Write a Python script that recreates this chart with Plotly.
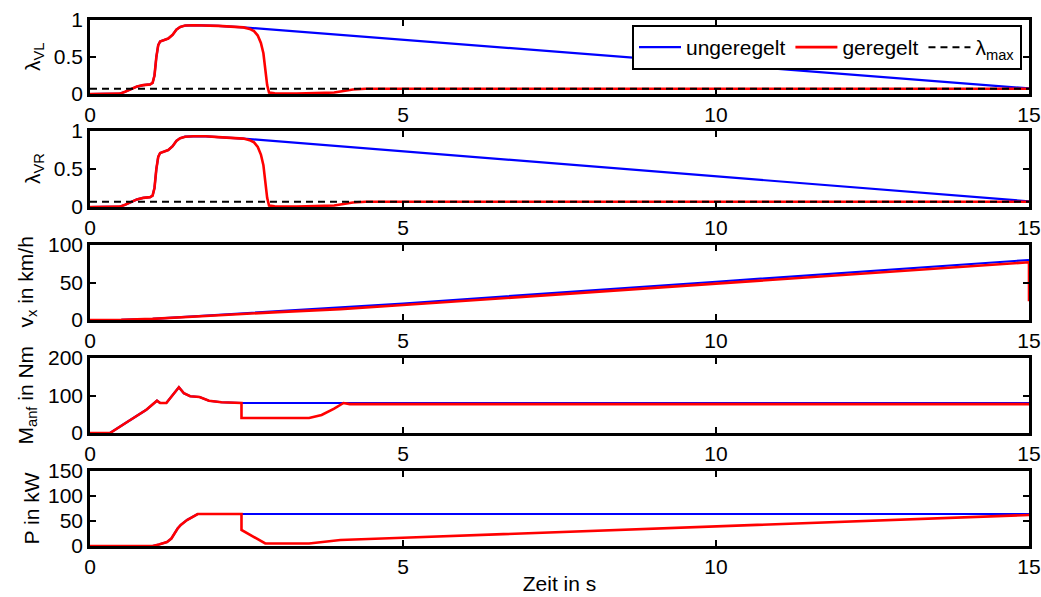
import plotly.graph_objects as go

# ---------------- data ----------------
# lambda_VL (front left wheel slip)
lvl_red_t = [0, 0.3, 0.48, 0.56, 0.64, 0.75, 0.85, 0.96, 1.0, 1.03, 1.06, 1.09, 1.12, 1.18, 1.25, 1.32, 1.38, 1.44, 1.52, 1.65, 1.85, 2.05, 2.25, 2.45, 2.55, 2.62, 2.68, 2.73, 2.77, 2.8, 2.83, 2.86, 2.95, 3.3, 3.7, 3.9, 4.05, 4.2, 4.4, 15]
lvl_red_v = [0, 0.0, 0.005, 0.03, 0.06, 0.1, 0.12, 0.13, 0.15, 0.25, 0.5, 0.66, 0.71, 0.73, 0.75, 0.8, 0.87, 0.905, 0.925, 0.93, 0.93, 0.92, 0.91, 0.9, 0.88, 0.85, 0.79, 0.69, 0.55, 0.35, 0.12, 0.02, 0.01, 0.005, 0.01, 0.02, 0.04, 0.06, 0.07, 0.07]
lvl_blue_t = [0, 0.3, 0.48, 0.56, 0.64, 0.75, 0.85, 0.96, 1.0, 1.03, 1.06, 1.09, 1.12, 1.18, 1.25, 1.32, 1.38, 1.44, 1.52, 1.65, 1.85, 2.05, 2.25, 2.45, 15]
lvl_blue_v = [0, 0.0, 0.005, 0.03, 0.06, 0.1, 0.12, 0.13, 0.15, 0.25, 0.5, 0.66, 0.71, 0.73, 0.75, 0.8, 0.87, 0.905, 0.925, 0.93, 0.93, 0.92, 0.91, 0.9, 0.075]

# lambda_VR (front right wheel slip)
lvr_red_t = [0, 0.3, 0.48, 0.56, 0.64, 0.75, 0.85, 0.96, 1.0, 1.03, 1.06, 1.09, 1.12, 1.18, 1.25, 1.32, 1.38, 1.44, 1.52, 1.65, 1.85, 2.05, 2.25, 2.45, 2.55, 2.62, 2.68, 2.73, 2.77, 2.8, 2.83, 2.86, 2.95, 3.3, 3.7, 3.9, 4.05, 4.2, 4.4, 15]
lvr_red_v = [0, 0.0, 0.005, 0.03, 0.06, 0.1, 0.12, 0.13, 0.15, 0.25, 0.5, 0.66, 0.71, 0.73, 0.75, 0.8, 0.87, 0.905, 0.925, 0.93, 0.93, 0.92, 0.91, 0.9, 0.88, 0.85, 0.79, 0.69, 0.55, 0.35, 0.12, 0.02, 0.01, 0.005, 0.01, 0.02, 0.04, 0.06, 0.07, 0.07]
lvr_blue_t = [0, 0.3, 0.48, 0.56, 0.64, 0.75, 0.85, 0.96, 1.0, 1.03, 1.06, 1.09, 1.12, 1.18, 1.25, 1.32, 1.38, 1.44, 1.52, 1.65, 1.85, 2.05, 2.25, 2.45, 15]
lvr_blue_v = [0, 0.0, 0.005, 0.03, 0.06, 0.1, 0.12, 0.13, 0.15, 0.25, 0.5, 0.66, 0.71, 0.73, 0.75, 0.8, 0.87, 0.905, 0.925, 0.93, 0.93, 0.92, 0.91, 0.9, 0.075]

lambda_max = 0.07

# vehicle speed v_x in km/h
vx_blue_t = [0, 0.5, 1.0, 1.5, 2.0, 2.5, 3.0, 4.0, 5.0, 10.0, 15.0]
vx_blue_v = [0, 0.2, 1.5, 4.0, 6.5, 9.0, 11.5, 16.5, 22.0, 51.0, 80.0]
vx_red_t = [0, 0.5, 1.0, 1.5, 2.0, 2.5, 3.0, 4.0, 5.0, 10.0, 15.0, 15.0]
vx_red_v = [0, 0.2, 1.5, 4.0, 6.3, 8.5, 10.5, 14.5, 20.0, 48.5, 77.0, 25.0]

# requested torque M_anf in Nm
m_red_t = [0, 0.32, 0.6, 0.9, 1.07, 1.12, 1.22, 1.42, 1.5, 1.6, 1.75, 1.8, 1.9, 2.1, 2.42, 2.42, 3.5, 3.7, 3.9, 4.05, 4.15, 15]
m_red_v = [0, 0, 30, 62, 86, 80, 80, 122, 106, 98, 96, 92, 86, 82, 80, 40, 40, 48, 65, 80, 77, 77]
m_blue_t = [0, 0.32, 0.6, 0.9, 1.07, 1.12, 1.22, 1.42, 1.5, 1.6, 1.75, 1.8, 1.9, 2.1, 2.42, 15]
m_blue_v = [0, 0, 30, 62, 86, 80, 80, 122, 106, 98, 96, 92, 86, 82, 80, 80]

# power P in kW
p_red_t = [0, 1.0, 1.1, 1.23, 1.3, 1.4, 1.45, 1.55, 1.72, 2.42, 2.42, 2.8, 3.5, 3.7, 4.0, 5.0, 15]
p_red_v = [0, 0, 3, 8, 15, 35, 42, 52, 64, 64, 32, 5, 5, 8, 12, 16.5, 62]
p_blue_t = [0, 1.0, 1.1, 1.23, 1.3, 1.4, 1.45, 1.55, 1.72, 2.42, 15]
p_blue_v = [0, 0, 3, 8, 15, 35, 42, 52, 64, 64, 64]

x_ticks = [0, 5, 10, 15]
y_ticks = [[0, 0.5, 1], [0, 0.5, 1], [0, 50, 100], [0, 100, 200], [0, 50, 100, 150]]
y_ranges = [[0, 1], [0, 1], [0, 100], [0, 200], [0, 150]]
y_titles = ["λ<sub>VL</sub>", "λ<sub>VR</sub>", "v<sub>x</sub> in km/h", "M<sub>anf</sub> in Nm", "P in kW"]
legend_names = ["ungeregelt", "geregelt", "λ<sub>max</sub>"]

# ---------------- figure ----------------
W, H = 1041, 597
ML, MR, MT, MB = 90, 12, 20, 51
PW, PH = W - ML - MR, H - MT - MB
# pixel extents (top, bottom) of each panel
panels_px = [(20, 94), (131, 207), (245, 320), (358, 433), (471, 546)]

BLUE = "#0000ff"
RED = "#ff0000"
FONT = "Arial, Liberation Sans, sans-serif"
FS = 21

fig = go.Figure()

series = [
    (lvl_blue_t, lvl_blue_v, lvl_red_t, lvl_red_v),
    (lvr_blue_t, lvr_blue_v, lvr_red_t, lvr_red_v),
    (vx_blue_t, vx_blue_v, vx_red_t, vx_red_v),
    (m_blue_t, m_blue_v, m_red_t, m_red_v),
    (p_blue_t, p_blue_v, p_red_t, p_red_v),
]

for i, (bt, bv, rt, rv) in enumerate(series):
    ax = "" if i == 0 else str(i + 1)
    fig.add_trace(go.Scatter(x=bt, y=bv, mode="lines", line=dict(color=BLUE, width=2.2),
                             name=legend_names[0], showlegend=(i == 0),
                             xaxis="x" + ax, yaxis="y" + ax))
    fig.add_trace(go.Scatter(x=rt, y=rv, mode="lines", line=dict(color=RED, width=2.6),
                             name=legend_names[1], showlegend=(i == 0),
                             xaxis="x" + ax, yaxis="y" + ax))
    if i < 2:
        fig.add_trace(go.Scatter(x=[0, 15], y=[lambda_max, lambda_max], mode="lines",
                                 line=dict(color="black", width=2, dash="7px,5px"),
                                 name=legend_names[2], showlegend=(i == 0),
                                 xaxis="x" + ax, yaxis="y" + ax))

def px_to_paper_y(py):
    return (H - MB - py) / PH

def px_to_paper_x(px):
    return (px - ML) / PW

layout = dict(
    template="none",
    width=W, height=H,
    margin=dict(l=ML, r=MR, t=MT, b=MB, pad=0, autoexpand=False),
    paper_bgcolor="white", plot_bgcolor="white",
    font=dict(family=FONT, size=FS, color="black"),
    legend=dict(orientation="h", x=px_to_paper_x(1022), xanchor="right",
                y=px_to_paper_y(25), yanchor="top",
                bgcolor="white", bordercolor="black", borderwidth=2,
                font=dict(size=FS), itemwidth=42, tracegroupgap=0),
)

annotations = []
title_x_px = [34, 34, 26, 26, 31]
for i, (top, bot) in enumerate(panels_px):
    ax = "" if i == 0 else str(i + 1)
    dom = [px_to_paper_y(bot), px_to_paper_y(top)]
    layout["xaxis" + ax] = dict(
        domain=[0, 1], range=[0, 15], anchor="y" + ax, automargin=False,
        tickvals=x_ticks, ticktext=[str(v) for v in x_ticks],
        ticks="inside", ticklen=6, tickwidth=1.5, tickcolor="black",
        showline=True, linecolor="black", linewidth=2.5, mirror="ticks",
        showgrid=False, zeroline=False, tickfont=dict(size=FS),
    )
    layout["yaxis" + ax] = dict(
        domain=dom, range=y_ranges[i], anchor="x" + ax, automargin=False,
        tickvals=y_ticks[i], ticktext=[("%g" % v) for v in y_ticks[i]],
        ticks="inside", ticklen=6, tickwidth=1.5, tickcolor="black",
        showline=True, linecolor="black", linewidth=2.5, mirror="ticks",
        showgrid=False, zeroline=False, tickfont=dict(size=FS),
    )
    annotations.append(dict(
        text=y_titles[i], textangle=-90, showarrow=False,
        xref="paper", yref="paper",
        x=px_to_paper_x(title_x_px[i]), y=(dom[0] + dom[1]) / 2,
        xanchor="center", yanchor="middle", font=dict(size=FS),
    ))

layout["xaxis5"]["title"] = dict(text="Zeit in s", font=dict(size=FS), standoff=0)
layout["annotations"] = annotations
fig.update_layout(**layout)

fig.write_html("out.html",
               config={"displayModeBar": False},
               post_script="document.body.style.margin='0px';document.body.style.overflow='hidden';")
